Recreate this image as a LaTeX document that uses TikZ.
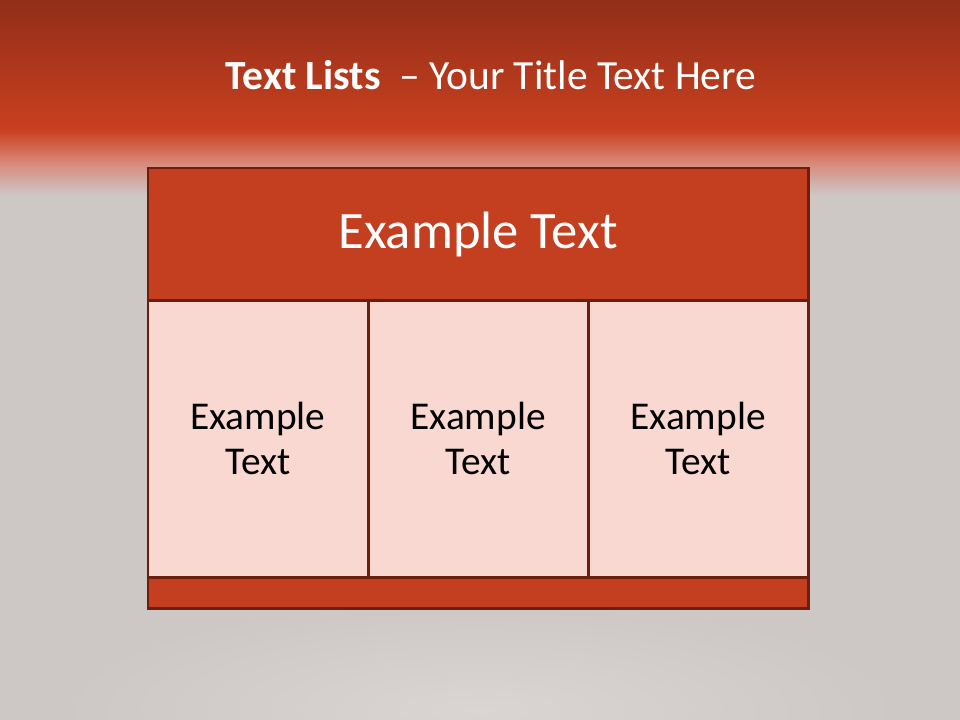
\documentclass[tikz,border=0pt]{standalone}
\usepackage{fontspec}
\setmainfont{Carlito}
\usetikzlibrary{positioning}
\definecolor{bandTop}{HTML}{922e19}
\definecolor{bandRed}{HTML}{c9401f}
\definecolor{bandFade}{HTML}{d98878}
\definecolor{slateBg}{HTML}{cdc7c5}
\definecolor{glowBg}{HTML}{dad5d3}
\definecolor{hdrFill}{HTML}{c43f20}
\definecolor{cellFill}{HTML}{f8d8d0}
\definecolor{edgeDark}{HTML}{6b1d0e}

\begin{document}
\begin{tikzpicture}[x=0.025cm,y=-0.025cm,
  blk/.style={draw=edgeDark, line width=2.1pt, outer sep=0pt, inner sep=0pt},
  hdrbox/.style={blk, fill=hdrFill, minimum width=16.5cm, minimum height=3.3cm, text=white, font=\fontsize{37.4}{44}\selectfont},
  cellbox/.style={blk, fill=cellFill, minimum width=5.5cm, minimum height=6.925cm, align=center, font=\fontsize{28}{32}\selectfont},
  footbox/.style={blk, fill=hdrFill, minimum width=16.5cm, minimum height=0.775cm}]
\useasboundingbox (0,0) rectangle (960,720);
% background
\fill[slateBg] (0,0) rectangle (960,720);
\begin{scope}
\clip (0,0) rectangle (960,720);
\shade[inner color=glowBg, outer color=slateBg] (480,710) ellipse (420 and 110);
\end{scope}
\shade[top color=bandTop, bottom color=bandRed] (0,0) rectangle (960,131);
\shade[top color=bandRed, bottom color=slateBg, middle color=bandFade] (0,130) rectangle (960,195);
% title
\node[text=white, font=\fontsize{29.5}{35}\selectfont] (title) at (491,75) {\textbf{Text Lists}\ \ – Your Title Text Here};
% table
\node[hdrbox, anchor=north west] (hdr) at (148,168) {Example Text};
\node[cellbox, anchor=north west] (c1) at (hdr.south west) {Example\\Text};
\node[cellbox, right=0pt of c1] (c2) {Example\\Text};
\node[cellbox, right=0pt of c2] (c3) {Example\\Text};
\node[footbox, anchor=north west] (foot) at (c1.south west) {};
\end{tikzpicture}
\end{document}
